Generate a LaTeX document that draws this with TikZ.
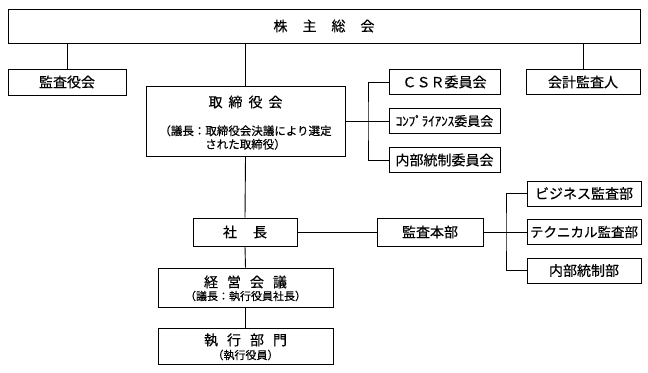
\documentclass[tikz,border=0pt]{standalone}
\usepackage{fontspec}
\setmainfont{Noto Sans CJK JP}[FakeBold=0.4]
\begin{document}
\begin{tikzpicture}[x=1bp,y=-1bp,
  box/.style={draw,line width=0.9bp,inner sep=0pt,font=\fontsize{14bp}{16bp}\selectfont},
  lbl/.style={inner sep=0pt,font=\fontsize{14bp}{16bp}\selectfont},
  sub/.style={inner sep=0pt,align=center,font=\fontsize{11bp}{12.5bp}\selectfont},
  conn/.style={line width=0.9bp}]
\useasboundingbox (0,0) rectangle (648,372);
% boxes
\node[box,minimum width=632bp,minimum height=34bp] (top) at (324,26) {株\hspace{15bp}主\hspace{15bp}総\hspace{15bp}会};
\node[box,minimum width=118bp,minimum height=26bp] (kansayaku) at (67,82) {監査役会};
\node[box,minimum width=199bp,minimum height=70bp] (tori) at (245.5,121) {};
\node[lbl] (toriT) at (245.5,102) {取\hspace{6bp}締\hspace{6bp}役\hspace{6bp}会};
\node[sub,font=\fontsize{11.5bp}{13.5bp}\selectfont] (toriS) at (245.5,137.5) {（議長：取締役会決議により選定\\された取締役）};
\node[box,minimum width=111bp,minimum height=25bp] (csr) at (444.5,82) {ＣＳＲ委員会};
\node[box,minimum width=111bp,minimum height=25bp,font=\fontsize{13bp}{14bp}\selectfont] (comp) at (444.5,121) {ｺﾝﾌﾟﾗｲｱﾝｽ委員会};
\node[box,minimum width=111bp,minimum height=25bp] (naiiin) at (444.5,160) {内部統制委員会};
\node[box,minimum width=114bp,minimum height=25bp] (kaikei) at (583,82) {会計監査人};
\node[box,minimum width=104bp,minimum height=28bp] (shacho) at (245,232) {社\hspace{16bp}長};
\node[box,minimum width=106bp,minimum height=28bp] (honbu) at (430,232) {監査本部};
\node[box,minimum width=114bp,minimum height=25bp] (biz) at (584,193.5) {ビジネス監査部};
\node[box,minimum width=114bp,minimum height=25bp,font=\fontsize{13.5bp}{15bp}\selectfont] (tech) at (584,232) {テクニカル監査部};
\node[box,minimum width=114bp,minimum height=25bp] (naibu) at (584,270.5) {内部統制部};
\node[box,minimum width=175bp,minimum height=39bp] (keiei) at (245.5,287.5) {};
\node[lbl] (keieiT) at (245.5,282) {経\hspace{9bp}営\hspace{9bp}会\hspace{9bp}議};
\node[sub] (keieiS) at (245.5,296) {（議長：執行役員社長）};
\node[box,minimum width=175bp,minimum height=36bp] (shikko) at (245.5,346) {};
\node[lbl] (shikkoT) at (245.5,340) {執\hspace{9bp}行\hspace{9bp}部\hspace{9bp}門};
\node[sub] (shikkoS) at (245.5,355) {（執行役員）};
% connectors
\coordinate (b1) at (368,121);
\coordinate (b2) at (506,232);
\draw[conn] (kansayaku.north) -- (kansayaku.north |- top.south);
\draw[conn] (tori.north) -- (tori.north |- top.south);
\draw[conn] (kaikei.north) -- (kaikei.north |- top.south);
\draw[conn] (tori.east) -- (comp.west);
\draw[conn] (csr.west) -| (b1) |- (naiiin.west);
\draw[conn] (tori.south) -- (shacho.north);
\draw[conn] (shacho.east) -- (honbu.west);
\draw[conn] (honbu.east) -- (tech.west);
\draw[conn] (biz.west) -| (b2) |- (naibu.west);
\draw[conn] (shacho.south) -- (keiei.north);
\draw[conn] (keiei.south) -- (shikko.north);
\end{tikzpicture}
\end{document}
